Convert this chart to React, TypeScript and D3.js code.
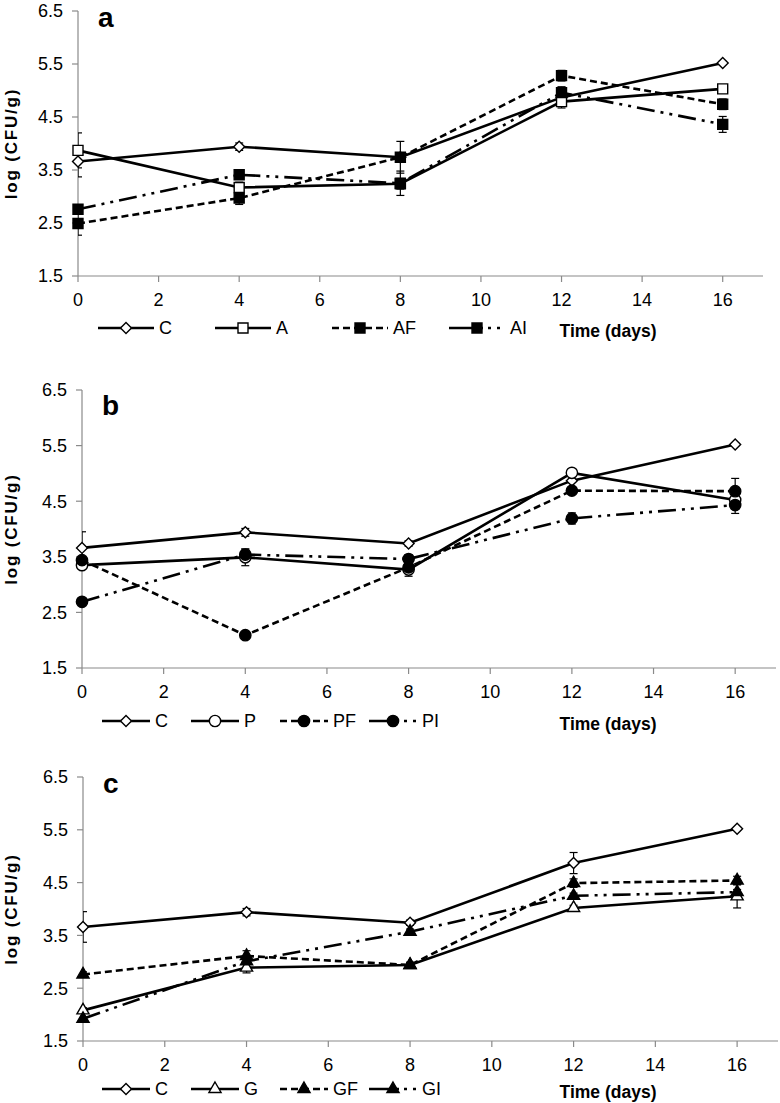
import React from 'react';
import * as d3 from 'd3';

// sampling days and axis ticks
const days = [0, 4, 8, 12, 16];
const xTicks = [0, 2, 4, 6, 8, 10, 12, 14, 16];
const yTicks = [1.5, 2.5, 3.5, 4.5, 5.5, 6.5];

// control (shared by all panels)
const cMean = [3.66, 3.94, 3.74, 4.87, 5.52];
const cErr = [0.29, 0.07, 0.05, 0.2, 0.03];

// panel a
const aMean = [3.87, 3.17, 3.24, 4.79, 5.03];
const aErr = [0.33, 0.1, 0.1, 0.05, 0.05];
const afMean = [2.49, 2.97, 3.74, 5.28, 4.74];
const afErr = [0.22, 0.12, 0.3, 0.1, 0.1];
const aiMean = [2.76, 3.41, 3.25, 4.96, 4.36];
const aiErr = [0.05, 0.08, 0.23, 0.1, 0.15];

// panel b
const pMean = [3.35, 3.49, 3.27, 5.01, 4.52];
const pErr = [0.05, 0.15, 0.12, 0.05, 0.1];
const pfMean = [3.44, 2.09, 3.31, 4.69, 4.68];
const pfErr = [0.05, 0.03, 0.05, 0.05, 0.23];
const piMean = [2.69, 3.54, 3.46, 4.19, 4.43];
const piErr = [0.05, 0.1, 0.08, 0.1, 0.15];

// panel c
const gMean = [2.08, 2.89, 2.94, 4.02, 4.24];
const gErr = [0.05, 0.1, 0.05, 0.05, 0.22];
const gfMean = [2.76, 3.11, 2.94, 4.49, 4.54];
const gfErr = [0.05, 0.1, 0.05, 0.08, 0.08];
const giMean = [1.92, 3.01, 3.57, 4.25, 4.32];
const giErr = [0.03, 0.05, 0.05, 0.05, 0.05];

type MarkerKind = 'diamond' | 'square' | 'circle' | 'triangle';
type Series = { name: string; mean: number[]; err: number[]; marker: MarkerKind; filled: boolean; dash: string };

const SOLID = 'none';
const DASH = '7 4';
const DASHDOT = '18 6 3 6 3 6';

const control = (): Series => ({ name: 'C', mean: cMean, err: cErr, marker: 'diamond', filled: false, dash: SOLID });

const panels = [
  {
    letter: 'a', left: 78, right: 763, top: 11, bottom: 276, letterY: 27, legendY: 328, legendX: 98, pitch: 117,
    series: [
      control(),
      { name: 'A', mean: aMean, err: aErr, marker: 'square', filled: false, dash: SOLID },
      { name: 'AF', mean: afMean, err: afErr, marker: 'square', filled: true, dash: DASH },
      { name: 'AI', mean: aiMean, err: aiErr, marker: 'square', filled: true, dash: DASHDOT },
    ] as Series[],
  },
  {
    letter: 'b', left: 82, right: 776, top: 390, bottom: 668, letterY: 415, legendY: 721, legendX: 102, pitch: 89,
    series: [
      control(),
      { name: 'P', mean: pMean, err: pErr, marker: 'circle', filled: false, dash: SOLID },
      { name: 'PF', mean: pfMean, err: pfErr, marker: 'circle', filled: true, dash: DASH },
      { name: 'PI', mean: piMean, err: piErr, marker: 'circle', filled: true, dash: DASHDOT },
    ] as Series[],
  },
  {
    letter: 'c', left: 83, right: 778, top: 777, bottom: 1041, letterY: 793, legendY: 1089, legendX: 102, pitch: 89,
    series: [
      control(),
      { name: 'G', mean: gMean, err: gErr, marker: 'triangle', filled: false, dash: SOLID },
      { name: 'GF', mean: gfMean, err: gfErr, marker: 'triangle', filled: true, dash: DASH },
      { name: 'GI', mean: giMean, err: giErr, marker: 'triangle', filled: true, dash: DASHDOT },
    ] as Series[],
  },
];

const FONT = '"Liberation Sans", Arial, sans-serif';
const AXIS = '#8a8a8a';

const symbolFor = (m: MarkerKind) => {
  if (m === 'square') return d3.symbol(d3.symbolSquare, 100)();
  if (m === 'circle') return d3.symbol(d3.symbolCircle, 100)();
  if (m === 'triangle') return d3.symbol(d3.symbolTriangle, 64)();
  return d3.symbol(d3.symbolSquare, 60)();
};

const Marker = ({ kind, filled, x, y }: { kind: MarkerKind; filled: boolean; x: number; y: number }) => (
  <path
    d={symbolFor(kind) || ''}
    transform={`translate(${x},${y})${kind === 'diamond' ? ' rotate(45)' : ''}`}
    fill={filled ? '#000' : '#fff'}
    stroke="#000"
    strokeWidth={1.4}
  />
);

const Panel = ({ p, idx }: { p: (typeof panels)[number]; idx: number }) => {
  const x = d3.scaleLinear().domain([0, 17]).range([p.left, p.right]);
  const y = d3.scaleLinear().domain([1.5, 6.5]).range([p.bottom, p.top]);
  const line = d3
    .line<number>()
    .x((_, i) => x(days[i]))
    .y((d) => y(d));
  const clipId = `clip-${idx}`;
  const midY = (p.top + p.bottom) / 2;
  const lineLen = p.pitch > 100 ? 56 : 48;

  return (
    <g>
      <defs>
        <clipPath id={clipId}>
          <rect x={p.left} y={p.top - 20} width={p.right - p.left} height={p.bottom - p.top + 40} />
        </clipPath>
      </defs>
      {/* axes */}
      <line x1={p.left} x2={p.left} y1={p.top} y2={p.bottom} stroke={AXIS} strokeWidth={1.2} />
      <line x1={p.left} x2={p.right} y1={p.bottom} y2={p.bottom} stroke={AXIS} strokeWidth={1.2} />
      {yTicks.map((t) => (
        <g key={`y${t}`}>
          <line x1={p.left - 6} x2={p.left} y1={y(t)} y2={y(t)} stroke={AXIS} strokeWidth={1.2} />
          <text x={p.left - 15} y={y(t)} dy="0.35em" textAnchor="end" fontSize={18} fontFamily={FONT}>
            {t.toFixed(1)}
          </text>
        </g>
      ))}
      {xTicks.map((t) => (
        <g key={`x${t}`}>
          <line x1={x(t)} x2={x(t)} y1={p.bottom} y2={p.bottom + 6} stroke={AXIS} strokeWidth={1.2} />
          <text x={x(t)} y={p.bottom + 24} dy="0.35em" textAnchor="middle" fontSize={18} fontFamily={FONT}>
            {t}
          </text>
        </g>
      ))}
      <text
        transform={`translate(11,${midY}) rotate(-90)`}
        textAnchor="middle"
        dy="0.35em"
        fontSize={17}
        fontWeight="bold"
        letterSpacing={1.8}
        fontFamily={FONT}
      >
        log (CFU/g)
      </text>
      <text x={p.left + 20} y={p.letterY} fontSize={28} fontWeight="bold" fontFamily={FONT}>
        {p.letter}
      </text>

      {/* error bars */}
      <g clipPath={`url(#${clipId})`}>
        {p.series.map((s) =>
          s.mean.map((m, i) => (
            <g key={`e${s.name}${i}`} stroke="#000" strokeWidth={1.2}>
              <line x1={x(days[i])} x2={x(days[i])} y1={y(m - s.err[i])} y2={y(m + s.err[i])} />
              <line x1={x(days[i]) - 4} x2={x(days[i]) + 4} y1={y(m - s.err[i])} y2={y(m - s.err[i])} />
              <line x1={x(days[i]) - 4} x2={x(days[i]) + 4} y1={y(m + s.err[i])} y2={y(m + s.err[i])} />
            </g>
          ))
        )}
      </g>

      {/* lines */}
      {p.series.map((s) => (
        <path
          key={`l${s.name}`}
          d={line(s.mean) || ''}
          fill="none"
          stroke="#000"
          strokeWidth={2.6}
          strokeDasharray={s.dash}
        />
      ))}
      {/* markers */}
      {p.series.map((s) =>
        s.mean.map((m, i) => <Marker key={`m${s.name}${i}`} kind={s.marker} filled={s.filled} x={x(days[i])} y={y(m)} />)
      )}

      {/* legend */}
      {p.series.map((s, i) => {
        const lx = p.legendX + i * p.pitch;
        const dash = s.dash === DASHDOT ? `${lineLen / 2 + 6} 5 3 6 3 40` : s.dash;
        return (
          <g key={`lg${s.name}`}>
            <line x1={lx} x2={lx + lineLen} y1={p.legendY} y2={p.legendY} stroke="#000" strokeWidth={2.6} strokeDasharray={dash} />
            <Marker kind={s.marker} filled={s.filled} x={lx + lineLen / 2} y={p.legendY} />
            <text x={lx + lineLen + 5} y={p.legendY} dy="0.35em" fontSize={18} fontFamily={FONT}>
              {s.name}
            </text>
          </g>
        );
      })}
      <text x={608} y={p.legendY + 3} dy="0.35em" textAnchor="middle" fontSize={17.5} fontWeight="bold" fontFamily={FONT}>
        Time (days)
      </text>
    </g>
  );
};

const App = () => (
  <svg width={780} height={1103} style={{ position: 'absolute', left: 0, top: 0, background: '#fff' }}>
    {panels.map((p, i) => (
      <Panel key={p.letter} p={p} idx={i} />
    ))}
  </svg>
);

export default App;
